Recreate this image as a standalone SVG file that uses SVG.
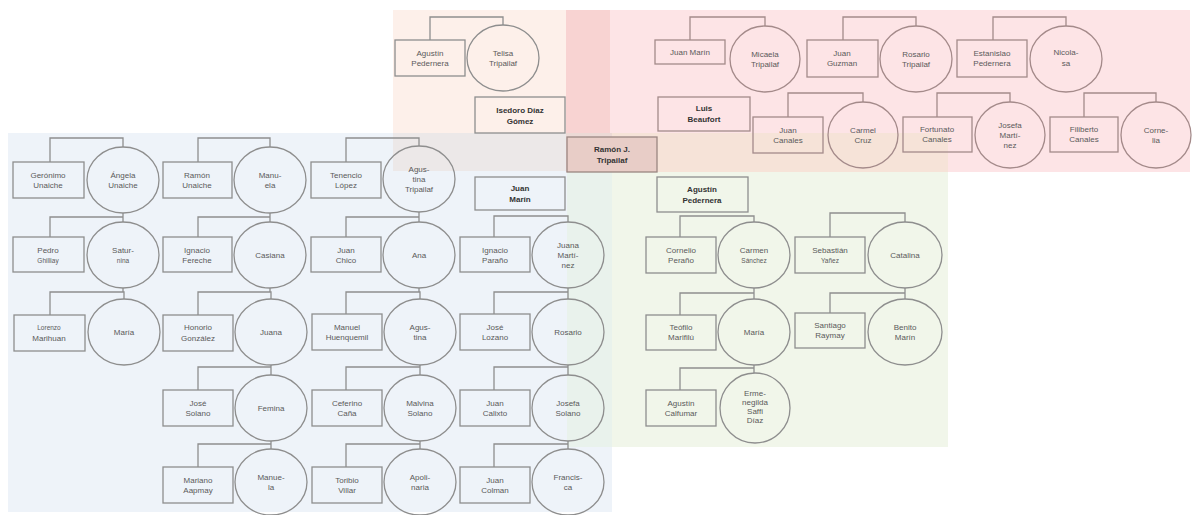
<svg xmlns="http://www.w3.org/2000/svg" width="1192" height="515" viewBox="0 0 1192 515">
<style>
.b{fill:none;stroke:#8e8e8e;stroke-width:1.3}
.pk .b{stroke:#a48a8a}
.c{fill:none;stroke:#8e8e8e;stroke-width:1.3}
.pk .c{stroke:#a48a8a}
.ln{fill:none;stroke:#8e8e8e;stroke-width:1.3}
.lp{fill:none;stroke:#a48a8a;stroke-width:1.3}
text{font-family:"Liberation Sans",Arial,sans-serif;font-size:8px;fill:#5a5a5a;text-anchor:middle}
.bd{font-weight:bold;fill:#333}
.sm{font-size:6.5px}
</style>
<g id="background">
<rect x="8" y="133" width="604" height="379" fill="#eef3f9"/>
<rect x="567" y="133" width="381" height="314" fill="#f1f6ea"/>
<rect x="393" y="10" width="217" height="123" fill="#fdf0ea"/>
<rect x="393" y="133" width="173" height="38" fill="#ece8e8"/>
<rect x="566" y="10" width="624" height="162" fill="#fde4e6"/>
<rect x="566" y="10" width="44" height="123" fill="#f8d3d2"/>
<rect x="610" y="133" width="338" height="39" fill="#f6e3d8"/>
<rect x="567" y="172" width="45" height="275" fill="#e9f2ec"/>
<rect x="566" y="133" width="46" height="39" fill="#ecd9d5"/>
</g>
<g id="connectors">
<path class="ln" d="M430,40V17H503V25"/>
<path class="lp" d="M690,40V17H765V26M843,40V17H916V26M993,40V17H1066V26M788,117V93H863V102M937,117V93H1010V102M1084,117V93H1156V102"/>
<path class="ln" d="M50,162V138H123V147M198,162V138H270V147M346,162V138H419V146"/>
<path class="ln" d="M50,237V217H123V222M123,213V217M198,237V217H270V222M270,213V217M346,237V217H419V222M419,212V217M494,237V216H568V222"/>
<path class="ln" d="M50,315V292H124V299M123,288V292M198,315V292H271V299M270,288V292M346,314V292H420V299M419,288V292M494,314V292H568V299M568,288V292"/>
<path class="ln" d="M198,390V367H271V375M271,365V367M346,390V367H420V375M420,365V367M494,390V367H568V375M568,365V367"/>
<path class="ln" d="M198,467V444H271V449M271,441V444M346,467V444H420V449M420,441V444M494,467V444H568V449M568,441V444"/>
<path class="ln" d="M680,237V216H754V222M830,237V213H905V222M680,315V293H754V299M754,288V293M830,313V293H905V299M905,288V293M680,390V368H754V373M754,365V368"/>
</g>
<g id="n-agustin-pedernera-1"><rect class="b" x="395" y="40" width="70" height="36"/><text x="430" y="56">Agustín</text><text x="430" y="66">Pedernera</text></g>
<g id="n-telisa"><ellipse class="c" cx="503" cy="58" rx="36" ry="33"/><text x="503" y="56">Telisa</text><text x="503" y="66">Tripailaf</text></g>
<g id="n-isedoro"><rect class="b" x="475" y="97" width="90" height="36"/><text class="bd" x="520" y="113">Isedoro Díaz</text><text class="bd" x="520" y="124">Gómez</text></g>
<g id="n-ramon-j"><rect x="567" y="137" width="90" height="35" fill="#e8cdc7" stroke="#9a8682" stroke-width="1.3"/><text class="bd" x="612" y="152">Ramón J.</text><text class="bd" x="612" y="163">Tripailaf</text></g>
<g class="pk">
<g id="n-juan-marin-1"><rect class="b" x="655" y="40" width="70" height="24"/><text x="690" y="55">Juan Marín</text></g>
<g id="n-micaela"><ellipse class="c" cx="765" cy="59" rx="35" ry="33"/><text x="765" y="57">Micaela</text><text x="765" y="67">Tripailaf</text></g>
<g id="n-juan-guzman"><rect class="b" x="807" y="40" width="71" height="37"/><text x="842" y="56">Juan</text><text x="842" y="66">Guzman</text></g>
<g id="n-rosario-tripailaf"><ellipse class="c" cx="916" cy="59" rx="36" ry="33"/><text x="916" y="57">Rosario</text><text x="916" y="67">Tripailaf</text></g>
<g id="n-estanislao"><rect class="b" x="957" y="40" width="70" height="37"/><text x="992" y="56">Estanislao</text><text x="992" y="66">Pedernera</text></g>
<g id="n-nicolasa"><ellipse class="c" cx="1066" cy="59" rx="36" ry="33"/><text x="1066" y="55">Nicola-</text><text x="1066" y="66">sa</text></g>
<g id="n-luis"><rect class="b" x="658" y="97" width="92" height="34"/><text class="bd" x="704" y="111">Luis</text><text class="bd" x="704" y="122">Beaufort</text></g>
<g id="n-juan-canales"><rect class="b" x="753" y="117" width="70" height="36"/><text x="788" y="133">Juan</text><text x="788" y="143">Canales</text></g>
<g id="n-carmel"><ellipse class="c" cx="863" cy="135" rx="35" ry="33"/><text x="863" y="133">Carmel</text><text x="863" y="143">Cruz</text></g>
<g id="n-fortunato"><rect class="b" x="903" y="117" width="69" height="35"/><text x="937" y="132">Fortunato</text><text x="937" y="142">Canales</text></g>
<g id="n-josefa-martinez"><ellipse class="c" cx="1010" cy="135" rx="35" ry="33"/><text x="1010" y="128">Josefa</text><text x="1010" y="138">Martí-</text><text x="1010" y="148">nez</text></g>
<g id="n-filiberto"><rect class="b" x="1050" y="117" width="68" height="35"/><text x="1084" y="132">Filiberto</text><text x="1084" y="142">Canales</text></g>
<g id="n-cornelia"><ellipse class="c" cx="1156" cy="135" rx="35" ry="33"/><text x="1156" y="133">Corne-</text><text x="1156" y="143">lia</text></g>
</g>
<g id="n-geronimo"><rect class="b" x="13" y="162" width="71" height="36"/><text x="48" y="178">Gerónimo</text><text x="48" y="188">Unaiche</text></g>
<g id="n-angela"><ellipse class="c" cx="123" cy="180" rx="36" ry="33"/><text x="123" y="178">Ángela</text><text x="123" y="188">Unaiche</text></g>
<g id="n-ramon-unaiche"><rect class="b" x="163" y="162" width="69" height="36"/><text x="197" y="178">Ramón</text><text x="197" y="188">Unaiche</text></g>
<g id="n-manuela-1"><ellipse class="c" cx="270" cy="180" rx="36" ry="33"/><text x="270" y="178">Manu-</text><text x="270" y="188">ela</text></g>
<g id="n-tenencio"><rect class="b" x="311" y="162" width="70" height="36"/><text x="346" y="178">Tenencio</text><text x="346" y="188">López</text></g>
<g id="n-agustina-tripailaf"><ellipse class="c" cx="419" cy="179" rx="36" ry="33"/><text x="419" y="172">Agus-</text><text x="419" y="182">tina</text><text x="419" y="192">Tripailaf</text></g>
<g id="n-juan-marin-2"><rect class="b" x="475" y="177" width="90" height="33"/><text class="bd" x="520" y="191">Juan</text><text class="bd" x="520" y="202">Marín</text></g>
<g id="n-pedro"><rect class="b" x="13" y="237" width="71" height="35"/><text x="48" y="253">Pedro</text><text class="sm" x="48" y="263">Ghilliay</text></g>
<g id="n-saturnina"><ellipse class="c" cx="123" cy="255" rx="36" ry="33"/><text x="123" y="253">Satur-</text><text class="sm" x="123" y="263">nina</text></g>
<g id="n-ignacio-fereche"><rect class="b" x="163" y="237" width="69" height="35"/><text x="197" y="253">Ignacio</text><text x="197" y="263">Fereche</text></g>
<g id="n-casiana"><ellipse class="c" cx="270" cy="255" rx="36" ry="33"/><text x="270" y="258">Casiana</text></g>
<g id="n-juan-chico"><rect class="b" x="311" y="237" width="70" height="35"/><text x="346" y="253">Juan</text><text x="346" y="263">Chico</text></g>
<g id="n-ana"><ellipse class="c" cx="419" cy="255" rx="36" ry="33"/><text x="419" y="258">Ana</text></g>
<g id="n-ignacio-parano"><rect class="b" x="460" y="237" width="70" height="35"/><text x="495" y="253">Ignacio</text><text x="495" y="263">Paraño</text></g>
<g id="n-juana-martinez"><ellipse class="c" cx="568" cy="255" rx="36" ry="33"/><text x="568" y="248">Juana</text><text x="568" y="258">Martí-</text><text x="568" y="268">nez</text></g>
<g id="n-lorenzo"><rect class="b" x="14" y="315" width="71" height="36"/><text class="sm" x="49" y="330">Lorenzo</text><text x="49" y="341">Marihuan</text></g>
<g id="n-maria-1"><ellipse class="c" cx="124" cy="332" rx="36" ry="33"/><text x="124" y="335">María</text></g>
<g id="n-honorio"><rect class="b" x="163" y="315" width="70" height="36"/><text x="198" y="330">Honorio</text><text x="198" y="341">González</text></g>
<g id="n-juana"><ellipse class="c" cx="271" cy="332" rx="36" ry="33"/><text x="271" y="335">Juana</text></g>
<g id="n-manuel"><rect class="b" x="312" y="314" width="70" height="36"/><text x="347" y="330">Manuel</text><text x="347" y="340">Huenquemil</text></g>
<g id="n-agustina-2"><ellipse class="c" cx="420" cy="332" rx="36" ry="33"/><text x="420" y="330">Agus-</text><text x="420" y="340">tina</text></g>
<g id="n-jose-lozano"><rect class="b" x="460" y="314" width="70" height="36"/><text x="495" y="330">José</text><text x="495" y="340">Lozano</text></g>
<g id="n-rosario-2"><ellipse class="c" cx="568" cy="332" rx="36" ry="33"/><text x="568" y="335">Rosario</text></g>
<g id="n-jose-solano"><rect class="b" x="163" y="390" width="70" height="36"/><text x="198" y="406">José</text><text x="198" y="416">Solano</text></g>
<g id="n-femina"><ellipse class="c" cx="271" cy="408" rx="36" ry="33"/><text x="271" y="411">Femina</text></g>
<g id="n-ceferino"><rect class="b" x="312" y="390" width="70" height="36"/><text x="347" y="406">Ceferino</text><text x="347" y="416">Caña</text></g>
<g id="n-malvina"><ellipse class="c" cx="420" cy="408" rx="36" ry="33"/><text x="420" y="406">Malvina</text><text x="420" y="416">Solano</text></g>
<g id="n-juan-calixto"><rect class="b" x="460" y="390" width="70" height="36"/><text x="495" y="406">Juan</text><text x="495" y="416">Calixto</text></g>
<g id="n-josefa-solano"><ellipse class="c" cx="568" cy="408" rx="36" ry="33"/><text x="568" y="406">Josefa</text><text x="568" y="416">Solano</text></g>
<g id="n-mariano"><rect class="b" x="163" y="467" width="70" height="36"/><text x="198" y="483">Mariano</text><text x="198" y="493">Aapmay</text></g>
<g id="n-manuela-2"><ellipse class="c" cx="271" cy="482" rx="36" ry="33"/><text x="271" y="480">Manue-</text><text x="271" y="490">la</text></g>
<g id="n-toribio"><rect class="b" x="312" y="467" width="70" height="36"/><text x="347" y="483">Toribio</text><text x="347" y="493">Villar</text></g>
<g id="n-apolinaria"><ellipse class="c" cx="420" cy="482" rx="36" ry="33"/><text x="420" y="480">Apoli-</text><text x="420" y="490">naria</text></g>
<g id="n-juan-colman"><rect class="b" x="460" y="467" width="70" height="36"/><text x="495" y="483">Juan</text><text x="495" y="493">Colman</text></g>
<g id="n-francisca"><ellipse class="c" cx="568" cy="482" rx="36" ry="33"/><text x="568" y="480">Francis-</text><text x="568" y="490">ca</text></g>
<g id="n-agustin-pedernera-2"><rect class="b" x="657" y="177" width="91" height="35" fill="#f1f6ea"/><text class="bd" x="702" y="192">Agustín</text><text class="bd" x="702" y="203">Pedernera</text></g>
<g id="n-cornelio"><rect class="b" x="646" y="237" width="70" height="36"/><text x="681" y="253">Cornelio</text><text x="681" y="263">Peraño</text></g>
<g id="n-carmen"><ellipse class="c" cx="754" cy="255" rx="36" ry="33"/><text x="754" y="253">Carmen</text><text class="sm" x="754" y="263">Sánchez</text></g>
<g id="n-sebastian"><rect class="b" x="795" y="237" width="70" height="36"/><text x="830" y="253">Sebastián</text><text class="sm" x="830" y="263">Yañez</text></g>
<g id="n-catalina"><ellipse class="c" cx="905" cy="255" rx="37" ry="33"/><text x="905" y="258">Catalina</text></g>
<g id="n-teofilo"><rect class="b" x="646" y="315" width="70" height="35"/><text x="681" y="330">Teófilo</text><text x="681" y="340">Marifilú</text></g>
<g id="n-maria-2"><ellipse class="c" cx="754" cy="332" rx="36" ry="33"/><text x="754" y="335">María</text></g>
<g id="n-santiago"><rect class="b" x="795" y="313" width="70" height="35"/><text x="830" y="328">Santiago</text><text x="830" y="338">Raymay</text></g>
<g id="n-benito"><ellipse class="c" cx="905" cy="332" rx="37" ry="33"/><text x="905" y="330">Benito</text><text x="905" y="340">Marín</text></g>
<g id="n-agustin-calfumar"><rect class="b" x="646" y="390" width="70" height="36"/><text x="681" y="406">Agustín</text><text x="681" y="416">Calfumar</text></g>
<g id="n-ermenegilda"><ellipse class="c" cx="755" cy="408" rx="35" ry="35"/><text x="755" y="396">Erme-</text><text x="755" y="405">negilda</text><text x="755" y="414">Saffi</text><text x="755" y="423">Díaz</text></g>
</svg>
